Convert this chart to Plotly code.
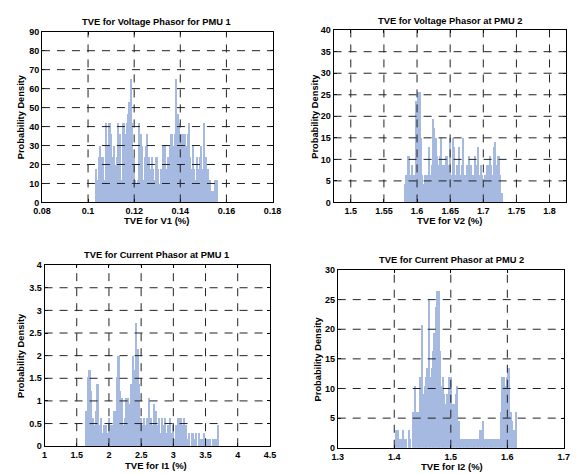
import plotly.graph_objects as go

# ---------------- data ----------------
v1_bin_start = 0.1033
v1_bin_width = 0.0006
v1_density = [18, 12, 24, 30, 24, 24, 12, 42, 30, 42, 42, 36, 24, 30, 20, 24, 42, 36, 12, 42,
              42, 36, 42, 47, 53, 65, 42, 24, 12, 10, 12, 42, 36, 30, 12, 24, 30, 36, 24, 18,
              24, 18, 12, 24, 24, 18, 10, 18, 30, 24, 30, 18, 24, 30, 36, 36, 30, 36, 65, 47,
              42, 36, 30, 36, 36, 30, 36, 42, 24, 18, 30, 18, 12, 24, 18, 24, 30, 18, 42, 24,
              12, 18, 12, 6, 6, 6, 12, 12]
v1_xticks = [0.08, 0.1, 0.12, 0.14, 0.16, 0.18]
v1_xtext = ["0.08", "0.1", "0.12", "0.14", "0.16", "0.18"]
v1_yticks = [0, 10, 20, 30, 40, 50, 60, 70, 80, 90]

v2_bin_start = 1.5805
v2_bin_width = 0.002
v2_density = [4.3, 6.4, 10.7, 10.7, 6.4, 8.6, 4.3, 6.4, 23.6, 19.3, 25.7, 25.7, 15, 6.4, 4.3,
              6.4, 6.4, 6.4, 12.9, 6.4, 8.6, 19.3, 17.2, 15, 10.7, 8.6, 10.7, 15, 8.6, 8.6,
              8.6, 10.7, 10.7, 8.6, 15, 6.4, 15, 12.9, 6.4, 8.6, 6.4, 12.9, 6.4, 8.6, 15,
              6.4, 6.4, 8.6, 10.7, 6.4, 8.6, 6.4, 4.3, 10.7, 8.6, 12.9, 6.4, 8.6, 6.4, 4.3,
              6.4, 6.4, 8.6, 8.6, 10.7, 8.6, 6.4, 12.9, 14, 8.6, 10.7, 10.7, 6.4, 2.1]
v2_xticks = [1.5, 1.55, 1.6, 1.65, 1.7, 1.75, 1.8]
v2_xtext = ["1.5", "1.55", "1.6", "1.65", "1.7", "1.75", "1.8"]
v2_yticks = [0, 5, 10, 15, 20, 25, 30, 35, 40]

i1_bin_start = 1.632
i1_bin_width = 0.025
i1_density = [0.77, 1.53, 1.68, 1.22, 0.61, 0.46, 0.77, 1.38, 0.46, 0.61, 0.3, 0.46, 0.46, 0.3,
              0.61, 0.46, 0.46, 0.77, 0.77, 1.53, 1.99, 1.22, 1.07, 0.46, 0.61, 1.07, 1.07,
              0.92, 1.38, 1.99, 1.68, 2.72, 2.14, 1.38, 0.61, 0.46, 0.61, 0.46, 0.61, 1.07,
              0.61, 0.46, 0.92, 0.77, 0.46, 0.61, 0.3, 0.61, 0.46, 0.61, 0.3, 0.46, 0.61, 0.3,
              0.46, 0.15, 0.46, 0.61, 0.61, 0.61, 0.46, 0.61, 0.46, 0.15, 0.3, 0.0, 0.3, 0.15,
              0.3, 0.0, 0.3, 0.15, 0.15, 0.3, 0.0, 0.15, 0.15, 0.15, 0.0, 0.15, 0.15, 0.15, 0.46]
i1_xticks = [1, 1.5, 2, 2.5, 3, 3.5, 4, 4.5]
i1_xtext = ["1", "1.5", "2", "2.5", "3", "3.5", "4", "4.5"]
i1_yticks = [0, 0.5, 1, 1.5, 2, 2.5, 3, 3.5, 4]
i1_ytext = ["0", "0.5", "1", "1.5", "2", "2.5", "3", "3.5", "4"]

i2_bin_start = 1.4023
i2_bin_width = 0.0025
i2_density = [3, 3, 1.5, 1.5, 1.5, 3, 1.5, 1.5, 0, 3, 1.5, 0, 6, 10.4, 6, 6, 4.5, 11.9, 20.8,
              9, 10.4, 11.9, 13.4, 25, 11.9, 13.4, 16.4, 19.4, 23.8, 26.5, 26.5, 16.4, 10.4,
              11.9, 9, 7.4, 9, 11.9, 7.4, 11.9, 7.4, 7.4, 9, 10.4, 4.5, 1.5, 1.5, 1.5, 1.5,
              1.5, 1.5, 1.5, 1.5, 1.5, 1.5, 1.5, 1.5, 1.5, 1.5, 3, 3, 4.5, 1.5, 1.5, 1.5, 1.5,
              1.5, 1.5, 1.5, 1.5, 1.5, 1.5, 1.5, 1.5, 6, 11.9, 11.9, 10.4, 11.9, 13.4, 13.4, 6,
              4.5, 3, 3, 6]
i2_xticks = [1.3, 1.4, 1.5, 1.6, 1.7]
i2_xtext = ["1.3", "1.4", "1.5", "1.6", "1.7"]
i2_yticks = [0, 5, 10, 15, 20, 25, 30]

# ---------------- layout ----------------
W, H = 578, 474
BAR = "#a5b9e1"
FONT = "Liberation Sans, Arial, sans-serif"


def px(x):
    return x / W


def py(y):
    return 1 - y / H


panels = [
    dict(start=v1_bin_start, width=v1_bin_width, dens=v1_density,
         box=(34, 27.3, 272, 201.7), xr=[0.08, 0.18], xt=v1_xticks, xtt=v1_xtext,
         yr=[0, 90], yt=v1_yticks, ytt=[str(v) for v in v1_yticks],
         title="TVE for Voltage Phasor for PMU 1", xlabel="TVE for V1 (%)",
         tpos=(152, 17), xlpos=(152, 220), ylpos=(12, 114)),
    dict(start=v2_bin_start, width=v2_bin_width, dens=v2_density,
         box=(335, 25.7, 575, 201.7), xr=[1.474, 1.825], xt=v2_xticks, xtt=v2_xtext,
         yr=[0, 40], yt=v2_yticks, ytt=[str(v) for v in v2_yticks],
         title="TVE for Voltage Phasor at PMU 2", xlabel="TVE for V2 (%)",
         tpos=(455, 16), xlpos=(455, 220), ylpos=(315, 114)),
    dict(start=i1_bin_start, width=i1_bin_width, dens=i1_density,
         box=(36.7, 265.7, 269.3, 450.7), xr=[1, 4.5], xt=i1_xticks, xtt=i1_xtext,
         yr=[0, 4], yt=i1_yticks, ytt=i1_ytext,
         title="TVE for Current Phasor at PMU 1", xlabel="TVE for I1 (%)",
         tpos=(152, 255), xlpos=(152, 470.5), ylpos=(13, 358)),
    dict(start=i2_bin_start, width=i2_bin_width, dens=i2_density,
         box=(339.3, 270.7, 572.7, 452.3), xr=[1.3, 1.7], xt=i2_xticks, xtt=i2_xtext,
         yr=[0, 30], yt=i2_yticks, ytt=[str(v) for v in i2_yticks],
         title="TVE for Current Phasor at PMU 2", xlabel="TVE for I2 (%)",
         tpos=(457, 261), xlpos=(457, 471), ylpos=(319, 362)),
]

fig = go.Figure()
annotations = []
shapes = []
GRID_DASH = "8px,7px"

for k, p in enumerate(panels, start=1):
    xa = "x" if k == 1 else f"x{k}"
    ya = "y" if k == 1 else f"y{k}"
    fig.add_trace(go.Bar(
        x0=p["start"] + p["width"] / 2, dx=p["width"], y=p["dens"], width=p["width"],
        marker=dict(color=BAR, line=dict(width=0)),
        xaxis=xa, yaxis=ya, showlegend=False, hoverinfo="skip"))
    x0, y0, x1, y1 = p["box"]
    axis_common = dict(
        showgrid=False, zeroline=False, showline=True, linecolor="black", linewidth=1,
        mirror="ticks", ticks="inside", ticklen=3, tickcolor="black",
        tickfont=dict(family=FONT, size=9, color="black", weight="bold"),
    )
    fig.update_layout(**{
        ("xaxis" if k == 1 else f"xaxis{k}"): dict(
            domain=[px(x0), px(x1)], range=p["xr"], tickmode="array",
            tickvals=p["xt"], ticktext=p["xtt"], anchor=ya, **axis_common),
        ("yaxis" if k == 1 else f"yaxis{k}"): dict(
            domain=[py(y1), py(y0)], range=p["yr"], tickmode="array",
            tickvals=p["yt"], ticktext=p["ytt"], anchor=xa, **axis_common),
    })
    # dashed grid lines drawn above the bars (as in the reference)
    for v in p["xt"]:
        if p["xr"][0] < v < p["xr"][1]:
            shapes.append(dict(type="line", xref=xa, yref=f"{ya} domain", x0=v, x1=v, y0=0, y1=1,
                               line=dict(color="#222222", width=1, dash=GRID_DASH), layer="above"))
    for v in p["yt"]:
        if p["yr"][0] < v < p["yr"][1]:
            shapes.append(dict(type="line", xref=f"{xa} domain", yref=ya, x0=0, x1=1, y0=v, y1=v,
                               line=dict(color="#222222", width=1, dash=GRID_DASH), layer="above"))
    annotations.append(dict(text=f"<b>{p['title']}</b>", x=px(p["tpos"][0]), y=py(p["tpos"][1]),
                            xref="paper", yref="paper", showarrow=False,
                            font=dict(family=FONT, size=9.3, color="black"),
                            xanchor="center", yanchor="middle"))
    annotations.append(dict(text=f"<b>{p['xlabel']}</b>", x=px(p["xlpos"][0]), y=py(p["xlpos"][1]),
                            xref="paper", yref="paper", showarrow=False,
                            font=dict(family=FONT, size=9.5, color="black"),
                            xanchor="center", yanchor="middle"))
    annotations.append(dict(text="<b>Probability Density</b>", x=px(p["ylpos"][0]), y=py(p["ylpos"][1]),
                            xref="paper", yref="paper", showarrow=False, textangle=-90,
                            font=dict(family=FONT, size=9.3, color="black"),
                            xanchor="center", yanchor="middle"))

fig.update_layout(
    width=W, height=H, margin=dict(l=0, r=0, t=0, b=0),
    paper_bgcolor="white", plot_bgcolor="white",
    bargap=0, barmode="overlay",
    annotations=annotations, shapes=shapes,
)

fig.write_html("out.html", config={"displayModeBar": False},
               post_script="document.body.style.margin='0';document.body.style.overflow='hidden';")
